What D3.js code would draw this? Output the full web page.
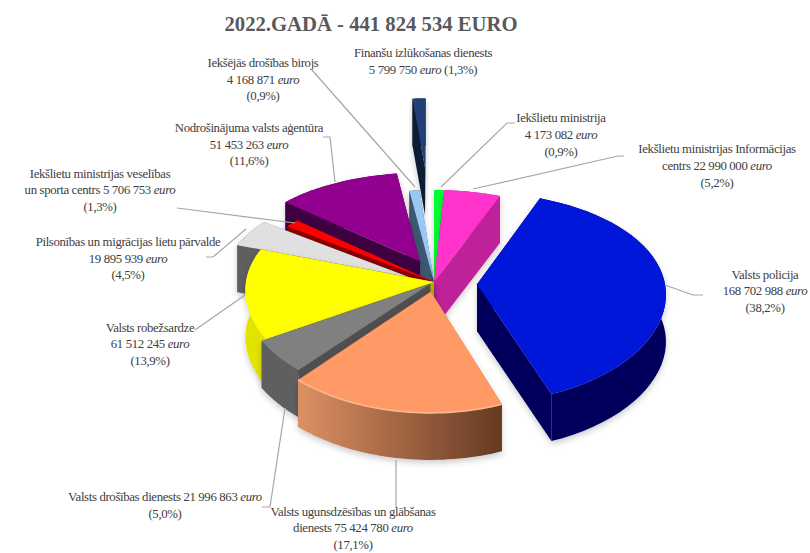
<!DOCTYPE html>
<html><head><meta charset="utf-8">
<script src="https://cdn.jsdelivr.net/npm/d3@7"></script>
<style>html,body{margin:0;padding:0;background:#fff}svg{display:block}text{font-family:"Liberation Serif",serif;fill:#404040}</style>
</head><body><svg id="c" width="810" height="553"></svg>
<script>
const titleText = "2022.GADĀ - 441 824 534 EURO";
const sliceNames = ["Iekšlietu ministrija","Iekšlietu ministrijas Informācijas centrs","Valsts policija","Valsts ugunsdzēsības un glābšanas dienests","Valsts drošības dienests","Valsts robežsardze","Pilsonības un migrācijas lietu pārvalde","Iekšlietu ministrijas veselības un sporta centrs","Nodrošinājuma valsts aģentūra","Iekšējās drošības birojs","Finanšu izlūkošanas dienests"];
const sliceValues = [4173082,22990000,168702988,75424780,21996863,61512245,19895939,5706753,51453263,4168871,5799750];
const topColors = ["#00ff33","#ff33cc","#0616d8","#ff9966","#808080","#ffff00","#e0e0e0","#ff0000","#92008f","#99c8f5","#204077"];
const wallColors = ["#00a020","#bf2398","#00005c","url(#gOrange)","#5e5e5e","#e3e300","#5f5f5f","#8a0000","#3d0040","#3c5870","#0c1a33"];
const cutColors  = ["#00a020","#bf2398","#00005c","#b56a42","#505050","#b0b000","#5f5f5f","#8a0000","#3d0040","#3c5870","#0c1a33"];
const explode = [0,0,43,18,5,0,32,0,38,0,240];
const nudgeX = [0,0,0,0,0,0,3,0,4,0,0];
const nudgeY = [0,0,2,0,0,0,3,0,-3,0,0];
const drawOrder = [10,9,0,1,8,7,6,5,4,3,2];
const labelLines = [
 {cx:561,y:[122,139,156],t:[["Iekšlietu ministrija"],["4 173 082 ","euro"],["(0,9%)"]]},
 {cx:717,y:[153,170,187],t:[["Iekšlietu ministrijas Informācijas"],["centrs 22 990 000 ","euro"],["(5,2%)"]]},
 {cx:765,y:[279,295,312],t:[["Valsts policija"],["168 702 988 ","euro"],["(38,2%)"]]},
 {cx:353,y:[516,532,549],t:[["Valsts ugunsdzēsības un glābšanas"],["dienests 75 424 780 ","euro"],["(17,1%)"]]},
 {cx:165,y:[501,518],t:[["Valsts drošības dienests 21 996 863 ","euro"],["(5,0%)"]]},
 {cx:150,y:[332,348,365],t:[["Valsts robežsardze"],["61 512 245 ","euro"],["(13,9%)"]]},
 {cx:128,y:[246,263,279],t:[["Pilsonības un migrācijas lietu pārvalde"],["19 895 939 ","euro"],["(4,5%)"]]},
 {cx:100,y:[178,194,211],t:[["Iekšlietu ministrijas veselības"],["un sporta centrs 5 706 753 ","euro"],["(1,3%)"]]},
 {cx:249,y:[132,149,165],t:[["Nodrošinājuma valsts aģentūra"],["51 453 263 ","euro"],["(11,6%)"]]},
 {cx:263,y:[67,84,100],t:[["Iekšējās drošības birojs"],["4 168 871 ","euro"],["(0,9%)"]]},
 {cx:423,y:[57,74],t:[["Finanšu izlūkošanas dienests"],["5 799 750 ","euro"," (1,3%)"]]}
];
const leaders = [
 [[515,123],[507,123],[441,187]],
 [[624,156],[618,156],[473,189]],
 [[703,295],[693,295],[665,285]],
 [[396,460],[396,507]],
 [[285,408],[270,507],[262,507]],
 [[195,330],[245,295]],
 [[206,257],[213,257],[246,229]],
 [[177,208],[295,223]],
 [[323,137],[330,137],[335,182]],
 [[312,70],[415,187]]
];

const cx=434, cy=282, R=188, tilt=0.55, persp=0.124, perspX=0.08, depth=47;
const svg=d3.select("#c");
const defs=svg.append("defs");
const g=defs.append("linearGradient").attr("id","gOrange");
g.append("stop").attr("offset","0").attr("stop-color","#de9064");
g.append("stop").attr("offset","1").attr("stop-color","#653a22");
const f=defs.append("filter").attr("id","sh").attr("x","-20%").attr("y","-20%").attr("width","140%").attr("height","140%");
f.append("feDropShadow").attr("dx",0).attr("dy",3).attr("stdDeviation",3).attr("flood-color","#000").attr("flood-opacity",0.2);

const proj=(u,v,z=0)=>{const s=1/(1-persp*v/R), sx=1/(1-perspX*v/R);return [cx+u*sx,cy+v*tilt*s+z];};
const pie=d3.pie().sort(null).startAngle(0).endAngle(2*Math.PI).value(d=>d);
const arcs=pie(sliceValues);
const line=d3.line();
drawOrder.forEach(i=>{
  const a=arcs[i], mid=(a.startAngle+a.endAngle)/2, ox=explode[i]*Math.sin(mid), oy=-explode[i]*Math.cos(mid);
  const ang=d3.range(0,41).map(k=>a.startAngle+(a.endAngle-a.startAngle)*k/40);
  const rim=z=>ang.map(t=>proj(ox+R*Math.sin(t),oy-R*Math.cos(t),z));
  const top=rim(0), bot=rim(depth), A0=proj(ox,oy,0), A1=proj(ox,oy,depth);
  const gr=svg.append("g").attr("filter","url(#sh)").attr("transform",`translate(${nudgeX[i]},${nudgeY[i]})`);
  gr.append("path").attr("d",line([A0,top[0],bot[0],A1])+"Z").attr("fill",cutColors[i]);
  gr.append("path").attr("d",line([A0,top[40],bot[40],A1])+"Z").attr("fill",cutColors[i]);
  gr.append("path").attr("d",line(top.concat(bot.slice().reverse()))+"Z").attr("fill",wallColors[i]);
  gr.append("path").attr("d",line([A0].concat(top))+"Z").attr("fill",topColors[i]);
  if(i===3) gr.append("path").attr("d",line(top)).attr("fill","none").attr("stroke","#ffb88f").attr("stroke-width",1.6);
});
leaders.forEach(p=>svg.append("path").attr("d",line(p)).attr("fill","none").attr("stroke","#a6a6a6").attr("stroke-width",1.2));
svg.append("text").text(titleText).attr("x",371).attr("y",31).attr("text-anchor","middle")
  .attr("font-size",20.7).attr("font-weight","bold").style("fill","#595959");
labelLines.forEach(l=>{
  l.t.forEach((parts,j)=>{
    const tx=svg.append("text").attr("x",l.cx).attr("y",l.y[j]).attr("text-anchor","middle").attr("font-size",12.8).attr("letter-spacing",-0.35);
    parts.forEach((p,k)=>tx.append("tspan").text(p).attr("font-style",k===1?"italic":"normal"));
  });
});
</script></body></html>
